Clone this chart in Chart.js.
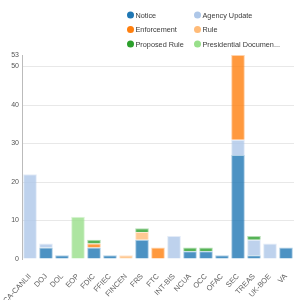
<!DOCTYPE html>
<html>
<head>
<meta charset="utf-8">
<script src="https://cdn.jsdelivr.net/npm/chart.js@4/dist/chart.umd.min.js"></script>
<style>
  html, body { margin: 0; padding: 0; background: #fff; }
  #wrap { width: 300px; height: 300px; position: relative; }
</style>
</head>
<body>
<div id="wrap"><canvas id="c"></canvas></div>
<script>
// ── Data ─────────────────────────────────────────────────────────────────────
const categories   = ['CA-CANLII', 'DOJ', 'DOL', 'EOP', 'FDIC', 'FFIEC', 'FINCEN', 'FRS', 'FTC',
                      'INT-BIS', 'NCUA', 'OCC', 'OFAC', 'SEC', 'TREAS', 'UK-BOE', 'VA'];
const notice       = [0, 3, 1, 0, 3, 1, 0, 5, 0, 0, 2, 2, 1, 27, 1, 0, 3];
const agencyUpdate = [22, 1, 0, 0, 0, 0, 0, 0, 0, 6, 0, 0, 0, 4, 4, 4, 0];
const enforcement  = [0, 0, 0, 0, 1, 0, 0, 0, 3, 0, 0, 0, 0, 22, 0, 0, 0];
const rule         = [0, 0, 0, 0, 0, 0, 1, 2, 0, 0, 0, 0, 0, 0, 0, 0, 0];
const proposedRule = [0, 0, 0, 0, 1, 0, 0, 1, 0, 0, 1, 1, 0, 0, 1, 0, 0];
const presidential = [0, 0, 0, 11, 0, 0, 0, 0, 0, 0, 0, 0, 0, 0, 0, 0, 0];
const yTicks       = [0, 10, 20, 30, 40, 50, 53];

const FONT = '"Liberation Sans", Arial, sans-serif';

function rgba(hex, a) {
  const n = parseInt(hex.slice(1), 16);
  return `rgba(${n >> 16},${(n >> 8) & 255},${n & 255},${a})`;
}

const series = [
  { label: 'Notice',                  data: notice,       color: '#1f77b4' },
  { label: 'Agency Update',           data: agencyUpdate, color: '#aec7e8' },
  { label: 'Enforcement',             data: enforcement,  color: '#ff7f0e' },
  { label: 'Rule',                    data: rule,         color: '#ffbb78' },
  { label: 'Proposed Rule',           data: proposedRule, color: '#2ca02c' },
  { label: 'Presidential Documen...', data: presidential, color: '#98df8a' },
];

// ── Two-column legend drawn on the canvas ────────────────────────────────────
const columnLegend = {
  id: 'columnLegend',
  afterDraw(chart) {
    const { ctx } = chart;
    const colX = [130.5, 197.5];
    const rowY = [15, 29.5, 44];
    ctx.save();
    ctx.font = `7.3px ${FONT}`;
    ctx.textBaseline = 'middle';
    ctx.textAlign = 'left';
    chart.data.datasets.forEach((ds, i) => {
      const x = colX[i % 2];
      const y = rowY[Math.floor(i / 2)];
      ctx.beginPath();
      ctx.arc(x, y, 3.5, 0, Math.PI * 2);
      ctx.fillStyle = ds.legendColor;
      ctx.fill();
      ctx.fillStyle = '#3a3a3a';
      ctx.fillText(ds.label, x + 5, y + 0.5);
    });
    ctx.restore();
  },
};

new Chart(document.getElementById('c'), {
  type: 'bar',
  data: {
    labels: categories,
    datasets: series.map(s => ({
      label: s.label,
      data: s.data,
      legendColor: s.color,
      backgroundColor: rgba(s.color, 0.8),
      borderColor: rgba(s.color, 0.35),
      borderWidth: 1,
      categoryPercentage: 0.9,
      barPercentage: 0.95,
    })),
  },
  plugins: [columnLegend],
  options: {
    responsive: true,
    maintainAspectRatio: false,
    animation: false,
    layout: { padding: { top: 55, right: 6, left: 0, bottom: 0 } },
    plugins: {
      legend: { display: false },
      tooltip: { enabled: false },
    },
    scales: {
      x: {
        stacked: true,
        grid: { display: false },
        border: { display: false },
        ticks: {
          color: '#666',
          font: { family: FONT, size: 7.5 },
          minRotation: 47,
          maxRotation: 47,
          padding: 5,
          autoSkip: false,
        },
        afterFit(scale) {
          scale.paddingLeft = 0;
          scale.paddingRight = 0;
          scale.height = 41;
        },
      },
      y: {
        stacked: true,
        min: 0,
        max: 53,
        afterBuildTicks(scale) {
          scale.ticks = yTicks.map(v => ({ value: v }));
        },
        afterFit(scale) {
          scale.width = 22;
        },
        grid: {
          drawTicks: false,
          color: ctx => (ctx.tick && (ctx.tick.value === 0 || ctx.tick.value === 53)) ? 'rgba(0,0,0,0)' : '#e8e8e8',
        },
        border: { display: true, color: '#bbb' },
        ticks: {
          color: '#555',
          font: { family: FONT, size: 7 },
          padding: 3,
        },
      },
    },
  },
});
</script>
</body>
</html>
